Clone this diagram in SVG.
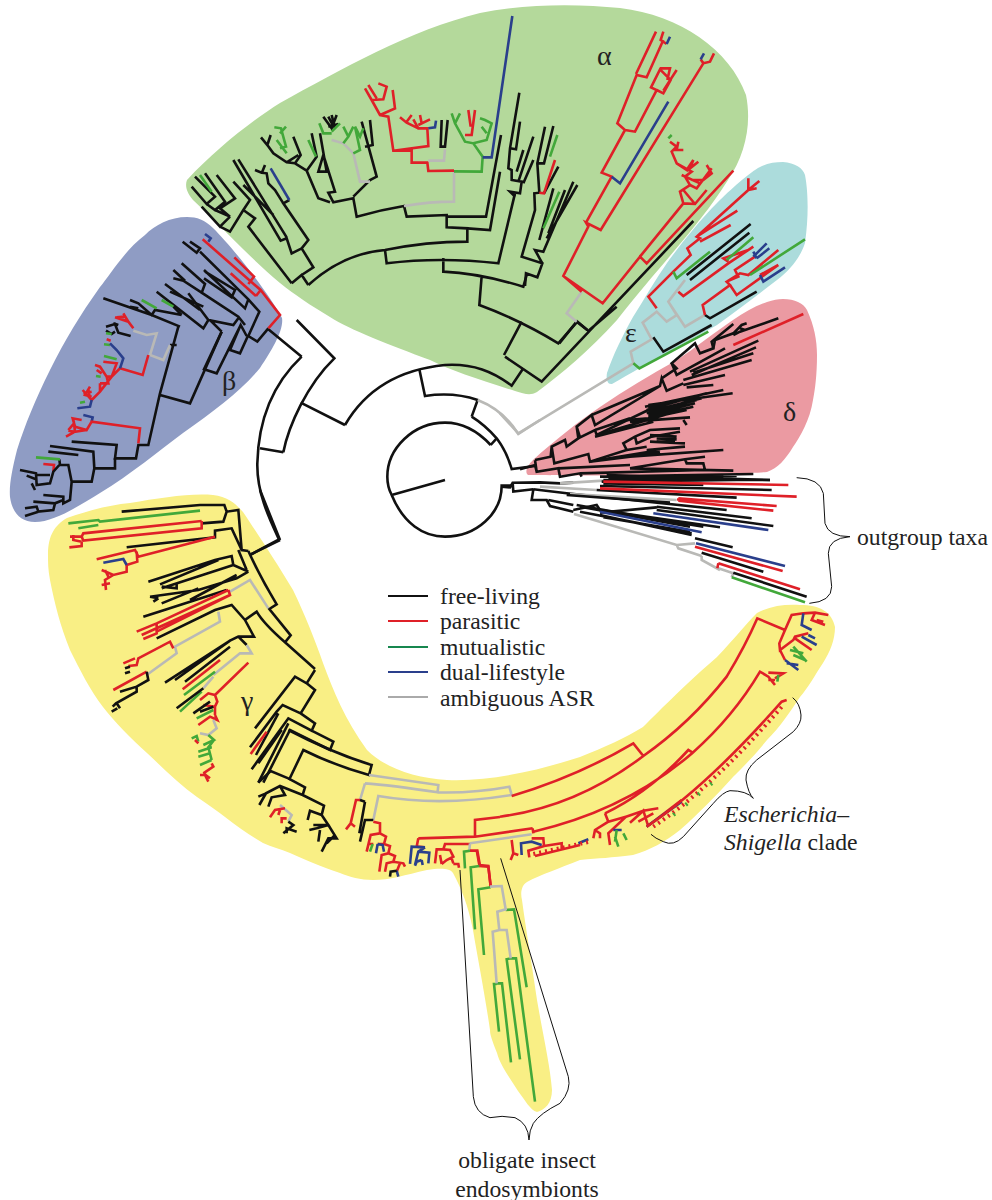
<svg xmlns="http://www.w3.org/2000/svg" width="992" height="1200" viewBox="0 0 992 1200">
<style>
.bg{stroke:none}
path{fill:none;stroke-linejoin:miter;stroke-miterlimit:6;vector-effect:non-scaling-stroke}
.k{stroke:#111;stroke-width:2.6}
.r{stroke:#df2028;stroke-width:2.6}
.g{stroke:#42a83a;stroke-width:2.6}
.b{stroke:#2a3f8c;stroke-width:2.6}
.a{stroke:#b9b9b6;stroke-width:2.6}
.t{stroke:#111;stroke-width:1}
text{font-family:"Liberation Serif","Times New Roman",serif;font-size:23.7px;fill:#222}
.gr{font-size:28px}
</style>
<g id="clade-backgrounds">
<path class="bg" style="fill:#b4d99b" d="M187 180 C215 150 250 122 280 103 C340 70 410 30 480 13 C530 3 580 4 620 8 C680 15 730 50 746 95 C752 125 745 155 728 180 C700 225 660 265 617 320 C590 350 560 375 537 392 C530 396 525 394 515 391 C480 380 450 370 430 360 C390 345 350 330 330 317 C310 305 295 295 280 283 C250 258 220 225 193 200 C186 192 185 185 187 180Z"/>
<path class="bg" style="fill:#8f9cc4" d="M187 217 C170 217 155 225 145 235 C125 250 110 275 100 287 C80 315 65 340 50 370 C35 400 25 425 17 450 C12 470 9 485 10 497 C12 512 20 522 35 522 C55 522 80 505 100 493 C130 475 160 450 183 433 C215 410 240 392 260 368 C272 350 284 330 282 318 C270 295 235 250 213 228 C205 220 197 217 187 217Z"/>
<path class="bg" style="fill:#f9ef85" d="M48 555 C48 535 55 525 67 518 C90 510 110 505 130 503 C160 498 190 493 213 495 C228 497 235 503 243 512 C255 530 275 560 293 590 C305 615 315 640 323 663 C333 690 345 720 367 750 C385 768 415 778 447 780 C490 782 540 770 580 757 C605 747 625 738 643 727 C660 710 690 680 717 657 C735 638 745 625 757 613 C770 606 785 604 800 605 C820 605 832 612 835 627 C835 640 830 652 823 663 C815 675 808 688 800 697 C790 712 780 727 767 740 C755 755 745 765 733 777 C715 797 700 812 680 830 C665 842 650 850 633 855 C610 858 600 858 580 860 C560 868 540 875 527 882 C522 885 520 892 522 900 C526 930 532 965 537 1000 C543 1035 550 1065 552 1090 C552 1103 545 1110 537 1112 C530 1110 525 1100 518 1091 C510 1078 500 1065 497 1053 C492 1040 490 1035 490 1030 C485 995 478 960 473 930 C468 905 462 890 453 873 C450 868 440 868 427 870 C405 875 390 880 373 880 C360 880 350 877 340 873 C320 866 305 860 290 853 C280 849 272 847 263 843 C240 830 220 812 197 797 C180 785 165 770 147 753 C130 738 115 722 103 707 C90 690 80 670 70 650 C60 625 55 605 50 580 C48 570 48 562 48 555Z"/>
<path class="bg" style="fill:#acdcdc" d="M783 162 C795 163 803 168 805 175 C808 190 809 215 805 243 C800 258 790 270 777 280 C755 297 735 312 717 325 C690 340 650 362 612 384 C607 385 606 378 607 373 C613 355 623 335 633 317 C645 298 655 280 667 263 C680 245 700 220 717 203 C730 190 750 172 760 167 C768 163 775 162 783 162Z"/>
<path class="bg" style="fill:#eb9aa2" d="M783 299 C795 299 803 303 807 310 C814 325 817 340 817 355 C817 375 815 390 813 400 C810 420 800 437 793 447 C785 460 778 468 767 472 C730 475 580 476 528 475 C524 472 528 465 533 460 C555 440 578 422 600 407 C625 390 650 375 677 360 C695 348 715 332 733 320 C745 312 755 306 767 302 C773 300 778 299 783 299Z"/>
</g>
<g id="connectors">
<g id="centre-rings" transform="translate(250 320) scale(.33333)">
<path class="k" d="M585 480 L425 525 M722 375 C680 330 630 308 585 308 C490 308 412 385 412 470 Q412 500 425 525 C460 610 520 650 585 650 C680 650 755 580 755 497 L785 497 M722 375 L740 355"/>
<path class="k" d="M665 290 Q705 315 740 355 Q770 395 785 447 L855 438 M665 290 L683 240 Q610 215 525 228 L508 148"/>
<path class="k" d="M285 315 C340 220 430 150 585 135 C670 130 730 155 785 197 L820 145 M762 105 L815 5 M285 315 L152 248"/>
<path class="a" d="M683 240 Q760 270 805 342 L870 300"/>
<path class="k" d="M100 397 C115 320 170 195 253 115 L140 0 M100 397 L30 385 M155 110 C70 190 25 300 22 430 C20 520 60 600 87 658 L0 705 M155 110 L55 28"/>
</g>
<g id="alpha-clade-left" transform="translate(180 0) scale(.33333)">
<path class="k" d="M35 560 L80 612 L105 590 L45 530 M80 612 L105 630 L135 605 L75 520 M105 630 L150 650 L120 625 L165 595 L110 525 M65 620 L120 680 L150 650 M120 680 L150 695 L190 630 L210 600 L160 545 M190 630 L225 655 L205 680 L335 850"/>
<path class="g" d="M60 525 L95 575"/>
<path class="k" d="M335 850 L365 825 L385 855 M365 825 L400 802 L365 745 L335 760 L320 715 L302 722 L160 480 M175 478 L320 712 M190 555 L280 645 M365 745 L385 720 L310 610 L328 600 M310 610 L285 570 L265 550 L260 520 L245 518 L225 510 M245 520 L255 495"/>
<path class="b" d="M272 505 L328 600"/>
<path class="k" d="M385 855 Q490 760 615 750 Q740 725 862 725 L862 685 L800 682 L800 645 L680 650 L672 618 Q600 630 530 650 L520 595 L460 607 L445 578 L465 575 L430 465 L415 515 L440 515 L420 400 M450 607 L415 595 L380 512 L345 490 L362 465 L340 410 M380 512 L410 470 L395 400 M243 412 L262 435 L272 405 M262 435 L280 460 L320 487 L345 490 M320 487 L355 465"/>
<path class="g" d="M283 382 L303 385 L318 440 L300 445 M300 400 L318 380 M290 420 L320 460 M385 420 L408 470"/>
<path class="k" d="M520 590 L570 540 L590 530 L545 365 M570 360 L578 435 L555 440"/>
<path class="k" d="M430 350 L455 385 L470 345 M445 350 L458 375 M455 345 L465 385 M445 380 L475 372"/>
<path class="a" d="M570 545 L540 545 L520 460 L490 430 L455 420"/>
<path class="g" d="M455 400 L430 400 L418 370 M455 395 L480 370 M520 460 L540 450 L525 380 L540 410 L550 385 M490 430 L505 410 L490 380 M505 410 L520 380"/>
<path class="a" d="M672 618 Q750 605 822 605 L822 512"/>
<path class="r" d="M822 512 L745 513 L742 488 L695 488 L695 452 L640 452 L625 350 L600 345 L575 300 L555 265 M600 345 L645 325 L638 270 M575 300 L610 298 L620 260 L595 250 M590 295 L565 255 M640 452 L745 438 L742 385 L715 385 L700 358 M715 385 L680 368 L660 352 M680 365 L695 345 M715 375 L750 358 M725 370 L720 345"/>
<path class="b" d="M745 385 L765 382 L768 362"/>
<path class="a" d="M745 482 L792 482 L795 448"/>
<path class="k" d="M785 360 L782 440 L795 440 L803 360"/>
<path class="g" d="M822 514 L905 515 L908 470 L880 430 L855 425 L825 370 L815 340 M825 370 L840 340 M880 430 L920 420 L935 370 L915 360 L900 355 M920 400 L905 380"/>
<path class="r" d="M855 405 L875 405 L885 330 M872 380 L865 330"/>
<path class="b" d="M908 472 L935 472 L997 48"/>
<path class="k" d="M615 750 L620 790 Q780 770 955 790 L1005 580 M862 685 L930 690 L960 515 M800 650 L918 650 L963 405 M790 775 L790 815 Q900 820 1030 860 L1040 825 M905 828 L898 915 Q1020 960 1135 1030 L1192 965 L1222 990"/>
</g>
<g id="alpha-clade-right" transform="translate(500 0) scale(.33333)">
<path class="k" d="M45 590 L30 575 L60 580 L65 545 L35 540 L35 510 L25 505 L30 445 L58 278 M30 445 L48 448 L60 365 M50 515 L70 450 M55 545 L100 410 M70 550 L100 480"/>
<path class="k" d="M75 858 L78 820 L112 832 L127 790 L65 770 L105 630 L103 580 L118 578 L112 490 L135 380 M112 490 L132 490 L160 378 M132 580 L175 500 M127 790 L105 750 L130 755 L220 545 M140 715 L232 555 M145 700 L195 570 M118 720 L160 565"/>
<path class="g" d="M150 470 L172 405 M130 685 L178 575"/>
<path class="r" d="M118 578 L132 580 L165 480"/>
<path class="k" d="M15 1070 L125 1145 L580 663 M262 995 L350 920 M262 990 L230 965 L178 1030"/>
<path class="a" d="M230 965 L200 940 L245 875"/>
<path class="r" d="M190 828 L308 910 L420 770 L440 790 L700 512 M245 875 L190 828 L265 680 L258 668 L302 690 L610 190 L602 178 M610 190 L630 185 L642 160 M258 668 L335 530 L305 518 L375 390 L352 370 L410 225 L440 232 L490 120 M375 390 L405 395 L470 270 L453 262 L480 208 L512 240 L490 280 L470 270 M408 222 L468 95 M490 95 L482 120 L500 132 M480 205 L510 205 L502 240 M490 272 L530 210"/>
<path class="b" d="M500 132 L510 110 M335 530 L360 550 L505 305 M602 178 L612 160"/>
<path class="r" d="M420 770 L550 610 L540 575 L570 555 L555 530 L575 515 L530 490 L515 455 L530 440 L510 425 M550 610 L585 612 L620 570 M550 570 L585 612 M570 555 L590 565 L635 505 M575 540 L610 540 L635 520 L620 495 M530 490 L560 510 L580 480 L570 505 L595 485 M520 450 L550 450 M530 450 L535 425 M545 525 L600 550"/>
<path class="g" d="M505 415 L515 405"/>
</g>
<g id="epsilon-clade" transform="translate(500 0) scale(.33333)">
<path class="a" d="M0 1240 L55 1300 L400 1090 L392 1055 L455 1018 L428 968 L470 935 L500 965 L530 945 L505 905 L555 840 M505 905 L555 980 L615 945"/>
<path class="g" d="M400 1090 L418 1105 L625 995"/>
<path class="k" d="M460 1012 L490 1055 L635 975 M615 945 L630 955 L770 875 M560 825 L752 672 M570 840 L748 698"/>
<path class="r" d="M615 945 L608 915 L690 855 L680 845 L720 820 L745 825 L835 750 M680 845 L715 830 L705 810 L765 770 M705 810 L750 780 M690 855 L710 885 L835 795 M780 825 L835 795 M470 925 L445 890 L520 815 L572 765 L562 745 L600 715 L590 710 L745 570 L778 543 M745 570 L770 565 M745 535 L745 570 M590 710 L712 632 M600 725 L692 675 M535 875 L550 888 L685 790 L760 740 M685 785 L670 775 L745 750"/>
<path class="g" d="M520 815 L530 835 L630 755 M680 780 L760 712 M750 825 L915 718"/>
<path class="b" d="M760 770 L800 730 M770 775 L808 745 M780 825 L790 845 L855 802 M760 755 L770 775"/>
</g>
<g id="delta-clade" transform="translate(520 300) scale(.33333)">
<path class="k" d="M0 508 L45 495 L50 515 L115 505 L120 530 L180 520 L185 530 M45 480 L50 515 M45 480 L92 470 L95 440 L135 420 L140 440 L175 415 L170 380 L215 345 L225 375 L420 258 L425 235 L440 272 L490 250 M95 440 L103 490 L205 462 L210 485 L320 450 L310 430 L345 410 L390 390 L480 385 M425 235 L470 205 L455 190 L525 130 L540 160 L580 145 L575 125 L640 72 M215 345 L420 258 M455 190 L470 225 L615 145 M170 380 L180 412 L225 390 L230 405 L385 330 M225 390 L330 355"/>
<path class="k" d="M510 215 L715 122 M515 225 L708 142 M520 218 L700 160 M490 240 L695 180 M490 255 L615 225 M500 262 L580 255 M375 320 L610 270 M385 315 L638 280 M380 330 L540 285 M380 340 L530 300 M385 350 L520 320 M385 360 L480 330 M385 325 L560 280 M385 335 L545 295 M385 345 L525 310 M385 355 L500 330 M330 365 L510 352 M320 360 L385 355 M225 410 L400 365 M230 405 L400 355 M490 360 L500 375"/>
<path class="k" d="M345 410 L350 430 L395 410 L480 395 M390 405 L470 410 M390 425 L495 430 M410 425 L465 425 M410 415 L470 418 M380 450 L495 440 M380 455 L420 450 M320 450 L380 440 M210 485 L330 470 L610 450 M230 480 L420 458 M250 478 L420 450 M115 505 L330 495 M330 505 L495 478 L555 470 M495 478 L500 490 L550 490 L555 510 M330 505 L640 512 M180 520 L550 510 M240 530 L700 522 M260 525 L750 540 M265 530 L650 528 M265 535 L600 535"/>
<path class="k" d="M580 145 L585 120 L640 100 L665 75 L680 70 M640 105 L660 95 L775 55 M660 85 L675 90"/>
<path class="r" d="M640 135 L850 42"/>
</g>
<g id="outgroup-clade" transform="translate(370 430) scale(.33333)">
<path class="k" d="M395 170 L420 172 L428 158 L510 157 L570 160 L610 158 M428 158 L430 185 L490 178 M490 178 L590 190 L1070 240 M490 178 L485 210 L530 210 L540 228 L610 245 M535 210 L610 225 M610 240 L680 225 L690 240 L1050 292"/>
<path class="a" d="M510 170 L680 180 M570 160 L700 152 M600 192 L920 210"/>
<path class="k" d="M700 150 L1200 150 M695 155 L1100 150 M690 168 L1205 180 M680 180 L1100 203 M720 140 L1060 140 M720 148 L1060 145 M700 160 L1000 165 M590 195 L900 218 M620 225 L950 285 M690 240 L1000 290"/>
<path class="r" d="M700 155 L1255 165 M690 175 L1280 200 M925 205 L1220 228 M925 212 L1210 242 M925 205 L925 212"/>
<path class="k" d="M860 230 L1145 265 M860 240 L1210 288 M630 230 L960 290 M630 245 L965 310 M690 255 L965 315 M690 248 L860 232 M700 262 L960 305"/>
<path class="b" d="M850 250 L1195 300 M690 245 L995 307"/>
<path class="a" d="M612 252 L920 345 L975 340 M920 345 L925 355 L995 378 M995 378 L995 390 L1050 420 M1045 415 L1090 430 L1085 442"/>
<path class="k" d="M975 325 L1088 352 M995 368 L1180 425 M1090 428 L1310 500"/>
<path class="b" d="M978 340 L1245 408"/>
<path class="r" d="M975 350 L1238 423 M1045 400 L1290 478 M1045 400 L1042 415"/>
<path class="g" d="M1085 442 L1305 517"/>
</g>
<g id="beta-clade" transform="translate(0 210) scale(.33333)">
<path class="r" d="M805 355 L840 315 L782 240 L608 88 M768 258 L692 190 M745 222 L762 200 L703 142 M782 240 L768 258"/>
<path class="b" d="M615 72 L632 85 L625 95"/>
<path class="k" d="M805 355 L772 395 L745 378 L778 305 L745 268 L600 125 M548 95 L590 128 L600 115 L570 95 M745 268 L735 295 L612 180 M740 378 L722 345 L690 420 L720 430 L745 375 M615 185 L705 240 L695 262 L612 205 M735 345 L715 320 L605 248 L615 222 L545 160 M605 248 L550 212 L520 205 M555 212 L520 180 M715 325 L700 345 L625 330 L610 355 L470 245 M625 330 L565 250 M665 365 L630 330 M665 365 L612 478 L650 490 L722 345"/>
<path class="k" d="M600 300 L495 222 M610 290 L510 245 M545 315 L520 290 M545 315 L465 300 L455 315 L415 280 L390 270 M415 295 L390 290 M540 350 L455 315 L310 265 M535 350 L480 550 L445 705 L415 705 L408 745 L345 745 L350 705 L215 695 M480 555 L570 580 L665 365 M510 405 L530 405"/>
<path class="g" d="M425 270 L470 295 M485 270 L520 290"/>
<path class="a" d="M510 405 L490 450 L450 435 L470 370 L440 375 L400 362"/>
<path class="r" d="M445 435 L428 495 L360 475 L335 500 L320 500 L300 470 L285 465 M400 355 L385 335 L345 322 M370 310 L385 335 M350 322 L375 320 M320 388 L332 392 M310 455 L350 460 L335 500 M335 500 L300 545 L275 570 L248 540 M300 520 L300 545 M305 490 L290 480 M320 500 L325 520 L300 520 M270 530 L255 555 L275 560 M250 550 L275 545 M265 540 L270 565"/>
<path class="k" d="M392 378 L355 368 L345 342 L318 350 M345 365 L335 372 L318 362 M355 345 L340 340"/>
<path class="g" d="M318 370 L335 372 M312 403 L330 405 M312 438 L350 448 M288 498 L302 500 M240 578 L255 575"/>
<path class="b" d="M330 400 L350 420 L370 445 L360 475 M232 595 L270 590 L275 570 M250 615 L278 622 L275 635"/>
<path class="r" d="M415 700 L420 655 L275 635 L260 660 L225 650 L218 625 L245 630 M260 660 L225 665 L222 640 L205 660 M225 665 L198 680 M205 662 L225 665"/>
<path class="k" d="M345 745 L345 775 L283 775 L280 725 L150 708 M235 735 L145 725 M283 775 L275 815 L215 815 L205 765 L180 765 L178 748 M215 815 L210 870 L190 880 L190 860 L130 855 M190 870 L165 880 L100 875 M165 880 L160 900 L115 905 L110 890 L75 895 M115 905 L75 918"/>
<path class="g" d="M108 742 L180 748"/>
<path class="r" d="M130 762 L162 765 L160 785"/>
<path class="k" d="M178 765 L160 785 L150 820 L110 825 L108 790 L60 780 M150 795 L110 795 M108 808 L80 797 M95 820 L105 840"/>
</g>
<g id="gamma-clade-upper" transform="translate(30 490) scale(.33333)">
<path class="k" d="M750 150 L665 192 M750 150 L690 0 M655 183 Q690 260 740 343 L718 357 L782 436 L765 457 Q700 400 680 365 L645 390 L672 440 L625 440 L600 452 L405 578 M765 457 L855 537 M655 183 L635 180 L625 60 L590 65 L583 45 L510 45 L275 65 M590 65 L580 95 L515 100 M635 180 L605 115 L555 122 L555 142 L290 172 M650 240 L625 180 M655 245 L610 225 L605 198 L555 210 L355 275 M565 210 L390 283 M610 225 L395 295 M440 280 L440 295 L395 290 M655 245 L620 265 L505 300 L360 320 M620 255 L480 330 M505 295 L395 340 M385 325 L360 320 M385 325 L370 335 M590 300 L340 380 M645 390 L605 345 L555 360 L380 445 M600 452 L435 570 M600 470 L465 575"/>
<path class="g" d="M510 62 L210 95 L205 90 L115 100 M205 105 L145 115"/>
<path class="r" d="M515 93 L515 115 L160 152 L155 140 L120 140 M515 93 L160 130 L155 140 M155 155 L155 168 L118 172 M130 135 L130 150 L155 155 M555 140 L325 200 L315 180 L200 208 M320 185 L322 215 L290 225 L290 245 L250 255 L215 240 M250 255 L225 270 L228 300 M240 280 L215 285 M225 240 L235 260"/>
<path class="b" d="M220 218 L280 207 L290 225"/>
<path class="a" d="M600 305 L660 270 L715 355 M565 365 L570 395 L435 470 L440 490 L350 555"/>
<path class="r" d="M595 300 L600 315 L380 425 M595 300 L380 400 L320 425 M380 400 L380 430 L340 447 M600 315 L335 435 M430 475 L420 455 L325 505 L320 525 L295 528 M315 505 L280 520 M350 545 L250 600"/>
<path class="k" d="M300 530 L285 535 M300 545 L285 550 M350 545 L355 570 L320 590 L270 605 M320 590 L320 605 L258 640 L248 650 M260 640 L270 655 M245 665 L262 655 M625 440 L650 465"/>
<path class="a" d="M650 465 L665 490 L630 490 L550 555 M550 560 L520 595"/>
<path class="r" d="M570 510 L458 598"/>
<path class="g" d="M555 545 L462 615 M515 605 L450 665"/>
<path class="k" d="M520 595 L440 655"/>
</g>
<g id="gamma-clade-mid" transform="translate(180 660) scale(.33333)">
<path class="r" d="M205 8 L105 105 L85 100 L60 120 M105 105 L112 125 L105 140 L70 135 M105 165 L112 180 L90 170 L55 195 M105 140 L105 165"/>
<path class="k" d="M90 125 L40 160 M100 140 L60 155"/>
<path class="g" d="M100 150 L50 175"/>
<path class="a" d="M100 180 L110 205 L85 225 L60 220"/>
<path class="g" d="M35 235 L50 228 L55 245 M85 225 L102 240 L70 255 M85 262 L95 262 L55 275 M90 280 L55 290 M95 300 L60 315 M102 240 L85 262 L95 300"/>
<path class="r" d="M45 240 L55 250 M95 310 L100 320 L70 340 M80 345 L60 345 M85 365 L75 345 M70 340 L90 355"/>
<path class="k" d="M405 30 L380 70 L345 50 L225 205 M380 70 L405 90 L362 160 L308 135 L290 155 L210 262 M295 160 L228 285 M362 160 L405 190 L395 212 L325 175 L215 328 M305 210 L235 310 M395 212 L460 245 L450 270 L330 210 L250 368 M325 190 L235 368"/>
<path class="r" d="M260 215 L212 282"/>
<path class="k" d="M325 355 L272 333 L235 368 M325 355 L375 382 L368 405 L300 378 L258 400 L238 435 M258 400 L235 410 M300 378 L315 405 L275 412 L265 440 M368 405 L432 437 L425 465 L390 452 L383 480 M425 465 L445 495 L400 495 M445 495 L470 535 L445 535 L425 575 M445 495 L410 505 L388 510 M420 510 L415 545 M465 525 L440 550"/>
<path class="a" d="M300 435 L335 465 L325 485"/>
<path class="r" d="M315 445 L285 450 L270 472 M300 450 L295 465 M320 475 L305 475 L305 490"/>
<path class="k" d="M325 485 L340 495 L310 520 M350 515 L320 505 L320 520"/>
</g>
<g id="gamma-clade-lower" transform="translate(240 720) scale(.33333)">
<path class="k" d="M145 30 Q280 100 395 135 L387 165 Q280 135 190 90 L147 180"/>
<path class="a" d="M387 165 L595 195 L593 215 M375 190 Q450 195 593 217 Q700 220 808 200 L815 225 Q600 260 415 228 L400 300 M375 190 L360 240"/>
<path class="r" d="M360 240 L348 240 L332 310 L318 328 M332 310 L345 320"/>
<path class="k" d="M375 245 L358 340 M360 240 L375 245 M400 300 L375 300 L360 365"/>
<path class="r" d="M400 305 L420 310 L420 340 L392 345 L380 395 M385 372 L400 372 M420 340 L438 350 L432 372 L413 372 M432 372 L450 378 L445 400 L425 405 L418 455 M445 400 L465 408 L460 425 L440 430 L435 455 M460 425 L490 430 L495 440 M480 430 L470 455"/>
<path class="g" d="M398 372 L390 395"/>
<path class="b" d="M413 372 L428 375 L432 395 M413 372 L408 400 M470 452 L475 470"/>
<path class="k" d="M470 452 L452 455 L450 470"/>
<path class="r" d="M705 350 L705 300 L780 291 M535 355 L705 350 L878 325 M878 325 L880 340 M535 355 L530 380 L555 382"/>
<path class="b" d="M555 382 L515 380 L510 432 M555 382 L535 395 L525 435 M535 395 L568 398 L565 430 M545 420 L530 425 L525 437 M545 420 L548 435"/>
<path class="r" d="M690 372 L615 372 L610 388 L590 388 L585 430 M610 388 L630 390 L640 410 L620 420 L605 432 M600 405 L605 432 M635 415 L640 430 M640 432 L655 432 L657 443"/>
<path class="a" d="M690 370 L875 343 M690 370 L688 392"/>
<path class="r" d="M690 392 L712 392 L720 438 L745 440 L752 498"/>
<path class="g" d="M690 392 L672 395 L675 445"/>
<path class="r" d="M875 355 L910 355 L912 378 L865 392 L868 412 M815 360 L820 400 L812 420 M820 400 L835 405 M912 378 L965 370 L965 385 M885 408 L1020 375"/>
<path class="b" d="M845 405 L843 370 L875 365 L905 375"/>
</g>
<g id="gamma-clade-stem" transform="translate(440 850) scale(.33333)">
<path class="r" d="M110 0 L118 45 L145 48 L152 110"/>
<path class="g" d="M118 48 L92 52 L105 238 M152 112 L115 118 L132 315 M197 180 L222 178 L260 412 M212 325 L200 328 L240 628 M212 325 L228 325 L285 755 M170 402 L162 402 L177 545 M170 400 L186 400 L213 637"/>
<path class="a" d="M150 110 L185 108 L197 178 L172 185 L178 240 L158 245 L170 400 M178 240 L200 240 L212 325"/>
</g>
<g id="gamma-clade-right" transform="translate(500 600) scale(.33333)">
<path class="r" d="M0 650 Q230 620 430 468 Q570 370 680 230 Q735 140 772 55 L855 90 L875 45 L910 40 L945 38 L985 45 M35 588 Q230 530 400 430 L430 468 M945 38 L935 60 L975 75 M950 60 L970 65 M855 90 L838 130 L840 150 L880 120 L885 110 L925 100 M885 115 L935 150 M840 150 L855 180"/>
<path class="b" d="M910 40 L905 75 L935 90 M905 110 L950 135 M925 105 L945 115 M855 180 L895 210 M860 190 L895 195"/>
<path class="g" d="M880 140 L920 185 M870 150 L910 160 M880 165 L915 180"/>
<path class="r" d="M100 695 Q380 630 578 458 Q700 350 780 215 L805 230 L825 255 M805 218 L850 220 L825 235 M805 240 L825 240 M315 640 Q450 575 565 450 L578 458"/>
<path class="g" d="M835 225 L832 245"/>
<path class="r" d="M315 640 L325 665 L285 690 L280 715 M285 690 L300 700 L300 715 M325 665 L378 650 L325 700 L330 735 M378 650 L430 632 L475 625 M390 668 L430 632 L445 680 M415 665 L460 640 M440 680 L545 600"/>
<path class="b" d="M340 690 L365 690 M440 680 L545 605 M235 730 L265 718"/>
<path class="g" d="M345 710 L355 740 M370 700 L380 720 M350 690 L345 725"/>
<path class="r" d="M440 680 Q620 560 845 305 L860 300"/>
<path class="r" style="stroke-width:4;stroke-dasharray:2 4" d="M460 680 Q640 560 850 315 M100 762 L270 725"/>
<path class="g" style="stroke-width:4;stroke-dasharray:2 14" d="M520 645 L660 530"/>
</g>
<g id="brackets">
<path class="t" transform="translate(440 850) scale(.33333)" d="M182 25 L385 680 Q395 720 360 760 Q300 790 280 820 Q268 840 267 870 Q265 820 225 803 Q185 795 150 803 Q105 790 100 740 L60 60"/>
<path class="t" transform="translate(500 600) scale(.33333)" d="M878 293 Q900 310 903 345 Q905 370 880 395 L770 480 Q735 510 738 540 Q745 580 760 595 Q740 572 690 572 Q670 575 640 610 L550 710 Q520 740 490 725 Q465 715 453 703"/>
<path class="t" transform="translate(370 430) scale(.33333)" d="M1280 143 Q1350 145 1360 190 L1365 280 Q1375 320 1440 320 Q1375 325 1375 370 L1385 470 Q1385 515 1318 520"/>
</g>
</g>
<g id="legend">
<path style="stroke:#111;stroke-width:2" d="M388 596 H428"/>
<path style="stroke:#df2028;stroke-width:2" d="M388 621 H428"/>
<path style="stroke:#17874f;stroke-width:2" d="M388 647 H428"/>
<path style="stroke:#2a3f8c;stroke-width:2" d="M388 672 H428"/>
<path style="stroke:#aaa;stroke-width:2" d="M388 697 H428"/>
<text x="440" y="604">free-living</text>
<text x="440" y="629">parasitic</text>
<text x="440" y="655">mutualistic</text>
<text x="440" y="680">dual-lifestyle</text>
<text x="440" y="706">ambiguous ASR</text>
</g>
<g id="labels">
<text class="gr" x="597" y="65">α</text>
<text class="gr" x="222" y="390">β</text>
<text class="gr" x="241" y="710">γ</text>
<text class="gr" x="783" y="421">δ</text>
<text class="gr" x="625" y="342">ε</text>
<text x="857" y="545">outgroup taxa</text>
<text x="724" y="822" font-style="italic">Escherichia–</text>
<text x="724" y="850"><tspan font-style="italic">Shigella</tspan> clade</text>
<text x="527" y="1168" text-anchor="middle">obligate insect</text>
<text x="527" y="1197" text-anchor="middle">endosymbionts</text>
</g>
</svg>
